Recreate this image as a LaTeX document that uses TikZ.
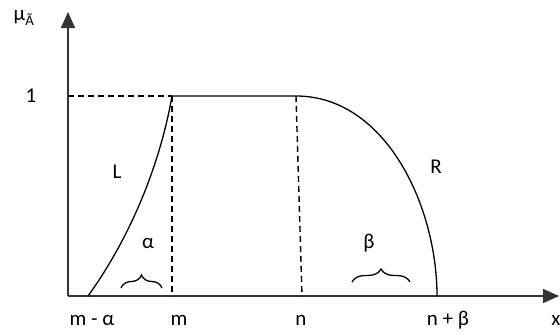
\documentclass[tikz,border=0pt]{standalone}
\usepackage{fontspec}
\setmainfont{Carlito}
\usetikzlibrary{arrows.meta,decorations.pathreplacing}

\begin{document}
\begin{tikzpicture}[x=1pt,y=-1pt,line width=1.3pt,font=\fontsize{21}{24}\selectfont,
  guide/.style={dashed,dash pattern=on 6pt off 4pt,line width=1.4pt},
  axisline/.style={-{Triangle[length=16pt,width=14pt]},line width=1.4pt,black!80},
  curlybrace/.style={decorate,decoration={brace,amplitude=13pt},line width=1.3pt}]
  \useasboundingbox (0,0) rectangle (560,335);
  % axes
  \coordinate (O) at (68,296);
  \coordinate (ytop) at (68,12);
  \coordinate (xend) at (559,296);
  \draw[axisline] (O) -- (ytop);
  \draw[axisline] (O) -- (xend);
  % key points
  \coordinate (one) at (68,96);
  \coordinate (mtop) at (172,96);
  \coordinate (mbot) at (172,296);
  \coordinate (ntop) at (296,96);
  \coordinate (nbot) at (302,296);
  \coordinate (lfoot) at (88,296);
  \coordinate (rfoot) at (437,296);
  \draw[guide] (one) -- (mtop);
  \draw[guide] (mtop) -- (mbot);
  \draw[guide] (ntop) -- (nbot);
  % membership function
  \draw (lfoot) .. controls (130,238) and (160,165) .. (mtop) -- (ntop)
        .. controls (385,96) and (437,205) .. (rfoot);
  % spreads
  \draw[curlybrace] (121,288) -- (162,288);
  \draw[curlybrace] (352,282) -- (410,282);
  % labels
  \node (mu) at (24,18) {μ\textsubscript{Ã}};
  \node (lone) at (31,96) {1};
  \node (lL) at (117,172) {L};
  \node (lR) at (436,167) {R};
  \node (alpha) at (148,243) {α};
  \node (beta) at (369,243) {β};
  \node (mal) at (92,320) {m - α};
  \node (lm) at (179,320) {m};
  \node (ln) at (301,320) {n};
  \node (npb) at (448,320) {n + β};
  \node (lx) at (556,320) {x};
\end{tikzpicture}
\end{document}
